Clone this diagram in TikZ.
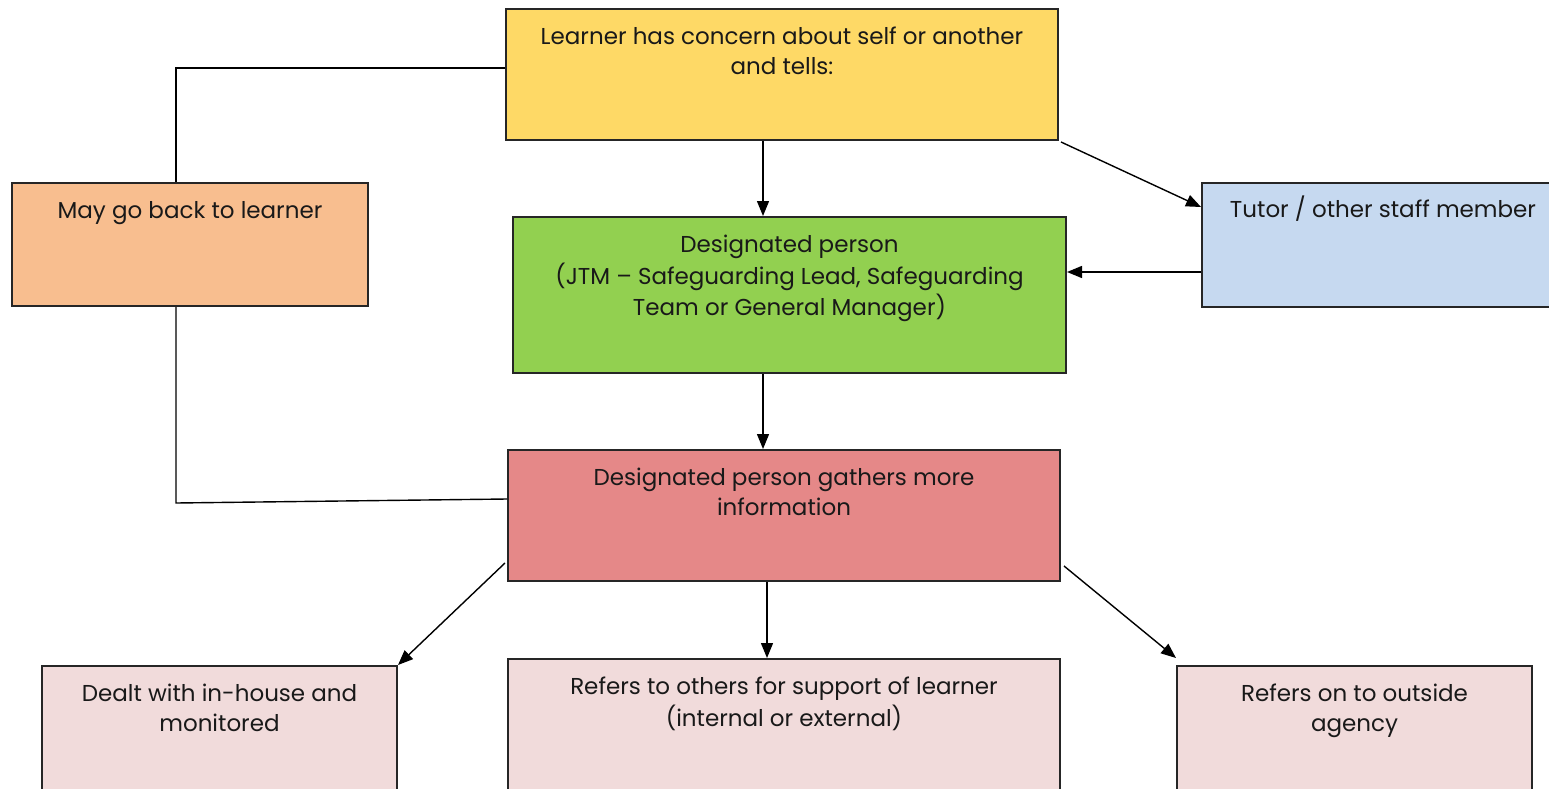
\documentclass[tikz,border=0pt]{standalone}
\usepackage{fontspec}
\setmainfont{Poppins}
\usepackage{xcolor}
\usetikzlibrary{positioning,calc,arrows.meta}

\definecolor{learnerfill}{HTML}{FED966}
\definecolor{backfill}{HTML}{F8BE8F}
\definecolor{personfill}{HTML}{92D050}
\definecolor{tutorfill}{HTML}{C6D9F0}
\definecolor{gatherfill}{HTML}{E58888}
\definecolor{outcomefill}{HTML}{F1DBDB}

\tikzset{
    flowbox/.style={draw=black!85, line width=2pt, inner sep=0pt},
    boxtext/.style={anchor=north, align=center, inner sep=0pt, text=black!90, font=\fontsize{23}{29.5}\selectfont},
    link/.style={line width=1.4pt},
    arrowlink/.style={link, -{Triangle[length=15pt,width=12pt]}}
}

\begin{document}
\begin{tikzpicture}[x=1pt, y=-1pt]
    \useasboundingbox (0,0) rectangle (1549,789);
    % Boxes
    \node[flowbox, fill=learnerfill, minimum width=552pt, minimum height=131pt] (learner) at (782,74.5) {};
    \node[flowbox, fill=backfill, minimum width=356pt, minimum height=123pt] (back) at (190,244.5) {};
    \node[flowbox, fill=personfill, minimum width=553pt, minimum height=156pt] (person) at (789.5,295) {};
    \node[flowbox, fill=tutorfill, minimum width=362pt, minimum height=124pt] (tutor) at (1383,245) {};
    \node[flowbox, fill=gatherfill, minimum width=552pt, minimum height=131pt] (gather) at (784,515.5) {};
    \node[flowbox, fill=outcomefill, minimum width=355pt, minimum height=131pt] (inhouse) at (219.5,731.5) {};
    \node[flowbox, fill=outcomefill, minimum width=552pt, minimum height=131pt] (others) at (784,724.5) {};
    \node[flowbox, fill=outcomefill, minimum width=355pt, minimum height=131pt] (outside) at (1354.5,731.5) {};

    % Texts
    \node[boxtext] (learnertext) at ([yshift=-16pt]learner.north) {\strut Learner has concern about self or another\\\strut and tells:};
    \node[boxtext] (backtext) at ([yshift=-16pt]back.north) {\strut May go back to learner};
    \node[boxtext] (persontext) at ([yshift=-16pt]person.north) {\strut Designated person\\\strut(JTM -- Safeguarding Lead, Safeguarding\\\strut Team or General Manager)};
    \node[boxtext] (tutortext) at ([yshift=-14pt]tutor.north) {\strut Tutor / other staff member};
    \node[boxtext] (gathertext) at ([yshift=-16pt]gather.north) {\strut Designated person gathers more\\\strut information};
    \node[boxtext] (inhousetext) at ([yshift=-16pt]inhouse.north) {\strut Dealt with in-house and\\\strut monitored};
    \node[boxtext] (otherstext) at ([yshift=-16pt]others.north) {\strut Refers to others for support of learner\\\strut(internal or external)};
    \node[boxtext] (outsidetext) at ([yshift=-16pt]outside.north) {\strut Refers on to outside\\\strut agency};

    % Connectors
    \draw[link] ([yshift=6.5pt]learner.west) -| ([xshift=-14pt]back.north);
    \draw[link] ([xshift=-14pt]back.south) -- ++(0,196) -- ([yshift=16.5pt]gather.west);
    \draw[arrowlink] ([xshift=-19pt]learner.south) -- ([xshift=-19pt]learner.south |- person.north);
    \draw[arrowlink] ([xshift=2pt,yshift=-1pt]learner.south east) -- ([yshift=-25pt]tutor.north west);
    \draw[arrowlink] ([yshift=-27pt]tutor.west) -- ([yshift=-27pt]tutor.west -| person.east);
    \draw[arrowlink] ([xshift=-26.5pt]person.south) -- ([xshift=-26.5pt]person.south |- gather.north);
    \draw[arrowlink] ([xshift=-2pt,yshift=-47.5pt]gather.west) -- (inhouse.north east);
    \draw[arrowlink] ([xshift=-17pt]gather.south) -- ([xshift=-17pt]gather.south |- others.north);
    \draw[arrowlink] ([xshift=3pt,yshift=-50.5pt]gather.east) -- ([yshift=7pt]outside.north west);
\end{tikzpicture}
\end{document}
